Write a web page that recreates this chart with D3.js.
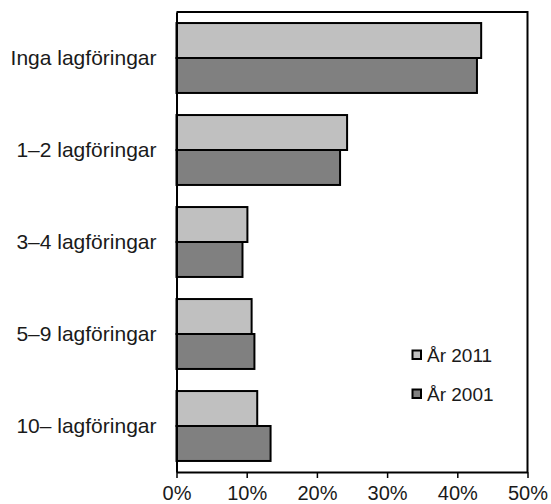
<!DOCTYPE html>
<html><head><meta charset="utf-8">
<script src="https://cdn.jsdelivr.net/npm/d3@7"></script>
<style>body{margin:0;background:#fff}svg{display:block}</style>
</head><body>
<script>
const categories = ["Inga lagföringar","1–2 lagföringar","3–4 lagföringar","5–9 lagföringar","10– lagföringar"];
const seriesNames = ["År 2011","År 2001"];
const values2011 = [43.4, 24.3, 10.1, 10.7, 11.5];
const values2001 = [42.8, 23.3, 9.4, 11.1, 13.4];
const xTicks = [0,10,20,30,40,50];
const colors = ["#c0c0c0","#808080"];

const W=551,H=504;
const L=176.5,R=527.5,T=12,B=472;
const svg=d3.select("body").append("svg").attr("width",W).attr("height",H);
const font="Liberation Sans, Arial, sans-serif";
const textColor="#1a1a1a";

const x=d3.scaleLinear().domain([0,50]).range([L,R]);
const y=d3.scaleBand().domain(categories).range([T,B]).paddingInner(0.24).paddingOuter(0.12);
const y1=d3.scaleBand().domain(seriesNames).range([0,y.bandwidth()]);

const data=categories.map((c,i)=>({cat:c,vals:[values2011[i],values2001[i]]}));
const g=svg.append("g");
g.selectAll("g.cat").data(data).join("g").attr("class","cat")
 .attr("transform",d=>`translate(0,${y(d.cat)})`)
 .selectAll("rect").data(d=>d.vals.map((v,j)=>({v,s:seriesNames[j],j})))
 .join("rect")
 .attr("x",x(0)).attr("y",d=>y1(d.s))
 .attr("width",d=>x(d.v)-x(0)).attr("height",y1.bandwidth())
 .attr("fill",d=>colors[d.j]).attr("stroke","#000").attr("stroke-width",2);

// frame top/right
svg.append("path").attr("d",`M${L},${T}H${R}V${B}`).attr("fill","none").attr("stroke","#000").attr("stroke-width",2);

const xa=svg.append("g").attr("transform",`translate(0,${B})`)
 .call(d3.axisBottom(x).tickValues(xTicks).tickFormat(d=>d+"%").tickSize(6).tickSizeOuter(0));
xa.select(".domain").attr("stroke","#000").attr("stroke-width",2);
xa.selectAll(".tick line").attr("stroke","#000").attr("stroke-width",1.5);
xa.selectAll(".tick text").attr("font-family",font).attr("font-size",20).attr("fill",textColor).attr("dy","0").attr("y",27.5);

const ya=svg.append("g").attr("transform",`translate(${L},0)`)
 .call(d3.axisLeft(y).tickSize(0).tickSizeOuter(0).tickPadding(20));
ya.select(".domain").attr("stroke","#000").attr("stroke-width",2);
ya.selectAll(".tick text").attr("font-family",font).attr("font-size",21).attr("fill",textColor);

// legend
const lg=svg.append("g");
const legendY=[355,394];
seriesNames.forEach((s,i)=>{
  lg.append("rect").attr("x",412.5).attr("y",legendY[i]-4.5).attr("width",8.5).attr("height",8.5)
    .attr("fill",colors[i]).attr("stroke","#000").attr("stroke-width",2);
  lg.append("text").attr("x",427).attr("y",legendY[i]+7).attr("font-family",font).attr("font-size",19)
    .attr("fill",textColor).text(s);
});
</script>
</body></html>
